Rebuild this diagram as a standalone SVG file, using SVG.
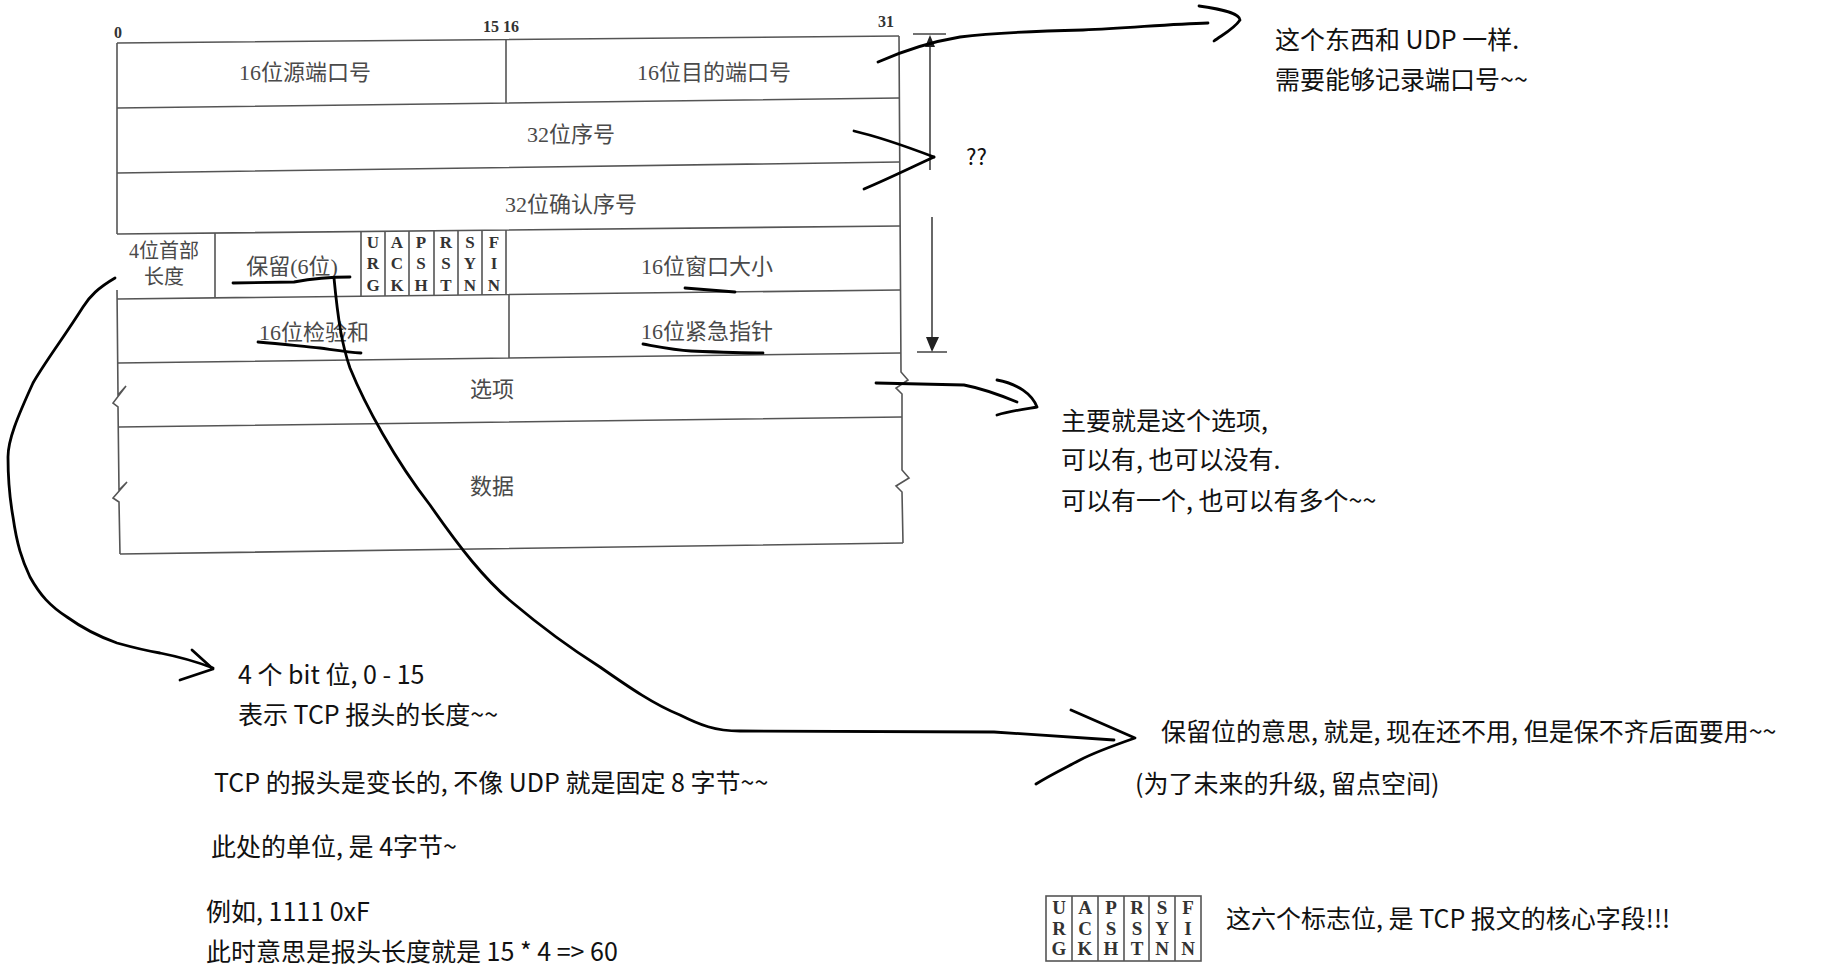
<svg xmlns="http://www.w3.org/2000/svg" width="1843" height="978" viewBox="0 0 1843 978">
<style>
.tl{stroke:#555;stroke-width:1.6;fill:none}
.tt{font-family:"Liberation Serif","Noto Sans CJK SC",serif;font-size:22px;fill:#4a4a4a;text-anchor:middle}
.ts{font-size:20px}
.fl{font-family:"Liberation Serif",serif;font-size:17px;fill:#333;text-anchor:middle;font-weight:bold}
.fm{font-size:19px}
.bn{font-family:"Liberation Serif",serif;font-size:16px;font-weight:bold;fill:#333}
.an{font-family:"Noto Sans CJK SC","Noto Sans",sans-serif;font-size:25px;fill:#111}
.hs{stroke:#000;stroke-width:2.8;fill:none;stroke-linecap:round;stroke-linejoin:round}
.dim{stroke:#444;stroke-width:1.6;fill:none}
</style>
<rect width="1843" height="978" fill="#fff"/>

<g id="tcp-header">
  <path class="tl" d="M117,43 L899,36 M117,108 L899,98 M117,173 L899,162 M117,234 L900,226 M117,299 L900,290 M118,363 L901,353 M119,427 L902,417 M120,554 L903,543"/>
  <path class="tl" d="M117,43 L117,234 M117,290 L118,395 L126,386 L113,403 L118,407 L119,490 L127,482 L113,498 L119,502 L120,554"/>
  <path class="tl" d="M899,36 L901,372 L908,380 L896,388 L902,394 L902,470 L909,478 L896,486 L902,492 L903,543"/>
  <path class="tl" d="M506,39 L506,103 M215,233 L215,298 M509,295 L509,358 M361,231 L361,296 M385,231 L385,296 M409,231 L409,296 M434,231 L434,296 M458,230 L458,295 M482,230 L482,295 M506,230 L506,295"/>
  <text class="bn" x="114" y="38">0</text>
  <text class="bn" x="483" y="32">15 16</text>
  <text class="bn" x="878" y="27">31</text>
</g>

<g id="src-port"><text class="tt" x="305" y="80">16位源端口号</text></g>
<g id="dst-port"><text class="tt" x="714" y="80">16位目的端口号</text></g>
<g id="seq"><text class="tt" x="571" y="142">32位序号</text></g>
<g id="ack"><text class="tt" x="571" y="212">32位确认序号</text></g>
<g id="hdr-len"><text class="tt ts" x="164" y="258">4位首部</text><text class="tt ts" x="164" y="284">长度</text></g>
<g id="reserved"><text class="tt" x="292" y="274">保留(6位)</text></g>
<g id="flags">
  <text class="fl" x="373" y="248">U</text><text class="fl" x="373" y="269">R</text><text class="fl" x="373" y="291">G</text>
  <text class="fl" x="397" y="248">A</text><text class="fl" x="397" y="269">C</text><text class="fl" x="397" y="291">K</text>
  <text class="fl" x="421" y="248">P</text><text class="fl" x="421" y="269">S</text><text class="fl" x="421" y="291">H</text>
  <text class="fl" x="446" y="248">R</text><text class="fl" x="446" y="269">S</text><text class="fl" x="446" y="291">T</text>
  <text class="fl" x="470" y="248">S</text><text class="fl" x="470" y="269">Y</text><text class="fl" x="470" y="291">N</text>
  <text class="fl" x="494" y="248">F</text><text class="fl" x="494" y="269">I</text><text class="fl" x="494" y="291">N</text>
</g>
<g id="window"><text class="tt" x="707" y="274">16位窗口大小</text></g>
<g id="checksum"><text class="tt" x="314" y="340">16位检验和</text></g>
<g id="urgent"><text class="tt" x="707" y="339">16位紧急指针</text></g>
<g id="options"><text class="tt" x="492" y="397">选项</text></g>
<g id="data"><text class="tt" x="492" y="494">数据</text></g>

<g id="dimension">
  <path class="dim" d="M913,34 L946,34 M930,38 L930,170 M932,217 L932,350 M917,352 L947,352"/>
  <path d="M930,35 L925,47 L935,47 Z" fill="#222"/>
  <path d="M932,352 L926,337 L939,337 Z" fill="#222"/>
</g>

<g id="note-udp">
  <text class="an" x="1275" y="49">这个东西和 UDP 一样.</text>
  <text class="an" x="1275" y="89">需要能够记录端口号~~</text>
</g>
<g id="note-qq"><text class="an" x="966" y="165" style="font-size:22px">??</text></g>
<g id="note-options">
  <text class="an" x="1061" y="430">主要就是这个选项,</text>
  <text class="an" x="1061" y="469">可以有, 也可以没有.</text>
  <text class="an" x="1061" y="510">可以有一个, 也可以有多个~~</text>
</g>
<g id="note-hdrlen">
  <text class="an" x="238" y="684">4 个 bit 位, 0 - 15</text>
  <text class="an" x="238" y="724">表示 TCP 报头的长度~~</text>
  <text class="an" x="214" y="792">TCP 的报头是变长的, 不像 UDP 就是固定 8 字节~~</text>
  <text class="an" x="211" y="856">此处的单位, 是 4字节~</text>
  <text class="an" x="206" y="921">例如, 1111 0xF</text>
  <text class="an" x="206" y="961">此时意思是报头长度就是 15 * 4 =&gt; 60</text>
</g>
<g id="note-reserved">
  <text class="an" x="1161" y="741">保留位的意思, 就是, 现在还不用, 但是保不齐后面要用~~</text>
  <text class="an" x="1135" y="793">(为了未来的升级, 留点空间)</text>
</g>
<g id="note-flags">
  <rect class="tl" x="1046" y="896" width="155" height="65"/>
  <path class="tl" d="M1072,896 L1072,961 M1098,896 L1098,961 M1124,896 L1124,961 M1149,896 L1149,961 M1175,896 L1175,961"/>
  <text class="fl fm" x="1059" y="914">U</text><text class="fl fm" x="1059" y="935">R</text><text class="fl fm" x="1059" y="955">G</text>
  <text class="fl fm" x="1085" y="914">A</text><text class="fl fm" x="1085" y="935">C</text><text class="fl fm" x="1085" y="955">K</text>
  <text class="fl fm" x="1111" y="914">P</text><text class="fl fm" x="1111" y="935">S</text><text class="fl fm" x="1111" y="955">H</text>
  <text class="fl fm" x="1137" y="914">R</text><text class="fl fm" x="1137" y="935">S</text><text class="fl fm" x="1137" y="955">T</text>
  <text class="fl fm" x="1162" y="914">S</text><text class="fl fm" x="1162" y="935">Y</text><text class="fl fm" x="1162" y="955">N</text>
  <text class="fl fm" x="1188" y="914">F</text><text class="fl fm" x="1188" y="935">I</text><text class="fl fm" x="1188" y="955">N</text>
  <text class="an" x="1226" y="928">这六个标志位, 是 TCP 报文的核心字段!!!</text>
</g>

<g id="connectors">
  <path class="hs" d="M878,62 C905,50 930,42 960,37 C1000,32 1040,31 1083,30 C1130,28 1170,24 1208,23"/>
  <path class="hs" d="M1199,6 C1222,9 1240,14 1240,20 C1234,29 1222,35 1214,41"/>
  <path class="hs" d="M854,131 C880,137 905,146 934,157"/>
  <path class="hs" d="M864,189 C890,178 910,168 934,157"/>
  <path class="hs" d="M876,383 L964,385 C985,389 1000,395 1017,402"/>
  <path class="hs" d="M997,380 C1018,384 1032,394 1037,407 C1025,409 1010,411 997,415"/>
  <path class="hs" d="M233,283 L294,282 C310,279 325,277 350,277"/>
  <path class="hs" d="M685,288 L735,292"/>
  <path class="hs" d="M258,342 C285,344 305,347 320,348 C335,350 348,352 361,353"/>
  <path class="hs" d="M643,344 C660,347 675,350 691,351 C715,352 740,353 763,353"/>
  <path class="hs" d="M334,278 C338,320 342,345 350,368 C365,405 395,460 430,505 C460,548 485,580 513,603 C545,630 570,648 600,667 C630,688 655,705 680,715 C700,725 715,731 740,731 L994,732 L1114,740"/>
  <path class="hs" d="M1071,710 L1135,738 C1115,745 1095,752 1080,760 C1065,768 1050,775 1036,784"/>
  <path class="hs" d="M115,278 C98,288 90,296 83,307 C62,340 45,362 33,383 C17,418 8,440 8,457 C8,480 10,500 13,517 C17,545 22,560 30,577 C40,595 50,606 67,617 C85,630 100,637 117,643 C135,648 148,651 160,653 C180,657 200,663 213,668"/>
  <path class="hs" d="M192,650 L213,669 L180,680"/>
</g>
</svg>
